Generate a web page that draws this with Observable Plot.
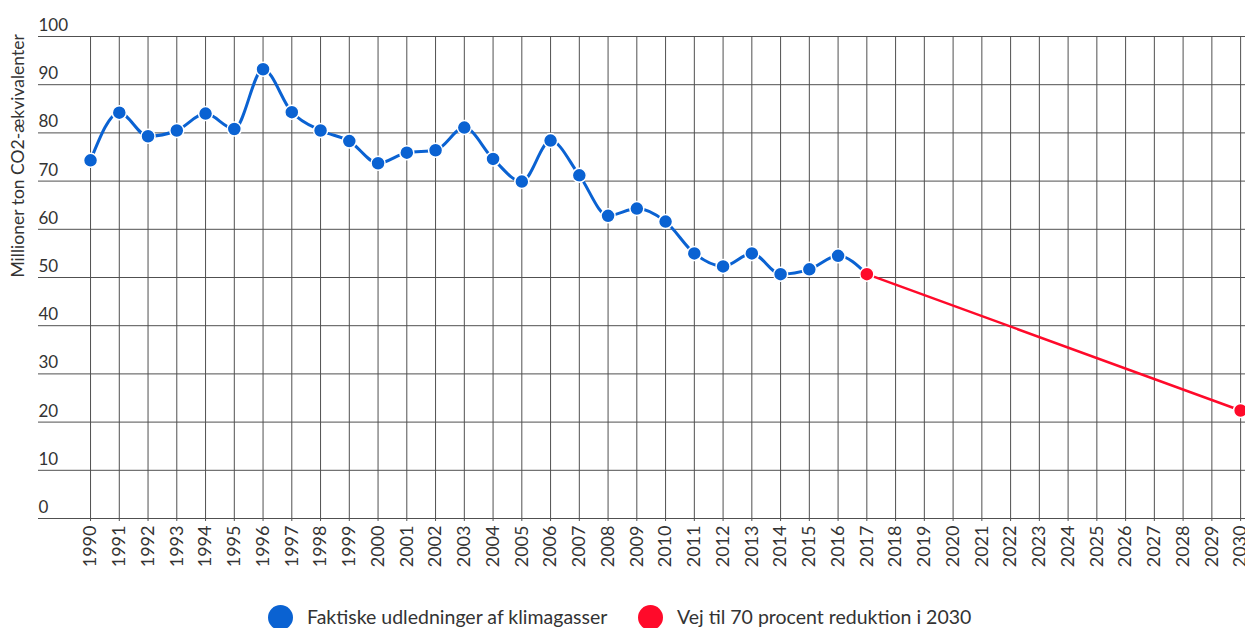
<!DOCTYPE html>
<html>
<head>
<meta charset="utf-8">
<script src="https://cdn.jsdelivr.net/npm/d3@7"></script>
<script src="https://cdn.jsdelivr.net/npm/@observablehq/plot@0.6"></script>
<style>
  html, body { margin: 0; padding: 0; background: #fff; overflow: hidden; }
  body { font-family: Lato, "Noto Sans", sans-serif; color: #333; }
  #legend { position: relative; height: 30px; font-size: 19.5px; color: #333; }
  .sw { position: absolute; width: 25px; height: 25px; border-radius: 50%; top: 7px; }
  .lbl { position: absolute; top: 8px; line-height: 22px; white-space: nowrap; }
</style>
</head>
<body>
<div id="chart"></div>
<div id="legend">
  <span class="sw" style="left:268px;background:#0a62d2"></span><span class="lbl" style="left:307px">Faktiske udledninger af klimagasser</span>
  <span class="sw" style="left:638px;background:#ff0a2a"></span><span class="lbl" style="left:677px">Vej til 70 procent reduktion i 2030</span>
</div>
<script>
const yearsActual = [1990,1991,1992,1993,1994,1995,1996,1997,1998,1999,2000,2001,2002,2003,2004,2005,2006,2007,2008,2009,2010,2011,2012,2013,2014,2015,2016,2017];
const emissions = [74.3,84.2,79.3,80.5,84.0,80.8,93.2,84.3,80.5,78.3,73.7,75.9,76.4,81.1,74.6,69.9,78.4,71.2,62.8,64.3,61.6,55.0,52.3,55.0,50.7,51.7,54.5,50.7];
const yearsTarget = [2017, 2030];
const targetValues = [50.7, 22.4];
const tickYears = d3.range(1990, 2031);
const yTicks = [0,10,20,30,40,50,60,70,80,90,100];

const actual = yearsActual.map((y, i) => ({year: y, value: emissions[i]}));
const target = yearsTarget.map((y, i) => ({year: y, value: targetValues[i]}));
const blue = "#0a62d2", red = "#ff0a2a", grid = "#505050";

const chart = Plot.plot({
  width: 1245,
  height: 598,
  marginLeft: 38,
  marginRight: 0,
  marginTop: 36,
  marginBottom: 80,
  style: {fontFamily: "Lato, sans-serif", fontSize: "16px", color: "#333"},
  x: {domain: [1988.19, 2030.17], type: "linear"},
  y: {domain: [0, 100]},
  marks: [
    Plot.ruleY(yTicks, {stroke: grid, strokeWidth: 1}),
    Plot.ruleX(tickYears, {x: d => d, y1: 0, y2: 100, stroke: grid, strokeWidth: 1}),
    Plot.axisY({ticks: yTicks, tickSize: 0, tickPadding: 0, textAnchor: "start", dx: 0, dy: -11, label: null, fontSize: 17}),
    Plot.axisX({ticks: tickYears, tickFormat: d => String(d), tickRotate: -90, tickSize: 3, tickPadding: 4, label: null, fontSize: 18, stroke: grid}),
    Plot.text(["Millioner ton CO2-ækvivalenter"], {frameAnchor: "left", rotate: -90, dx: -20, fontSize: 17.5, fill: "#333"}),
    Plot.line(target, {x: "year", y: "value", stroke: red, strokeWidth: 2.5}),
    Plot.line(actual, {x: "year", y: "value", stroke: blue, strokeWidth: 3, curve: "monotone-x"}),
    Plot.dot(actual.slice(0, -1), {x: "year", y: "value", r: 7, fill: blue, stroke: "white", strokeWidth: 1.5}),
    Plot.dot(target, {x: "year", y: "value", r: 7, fill: red, stroke: "white", strokeWidth: 1.5})
  ]
});
document.getElementById("chart").appendChild(chart);
</script>
</body>
</html>
